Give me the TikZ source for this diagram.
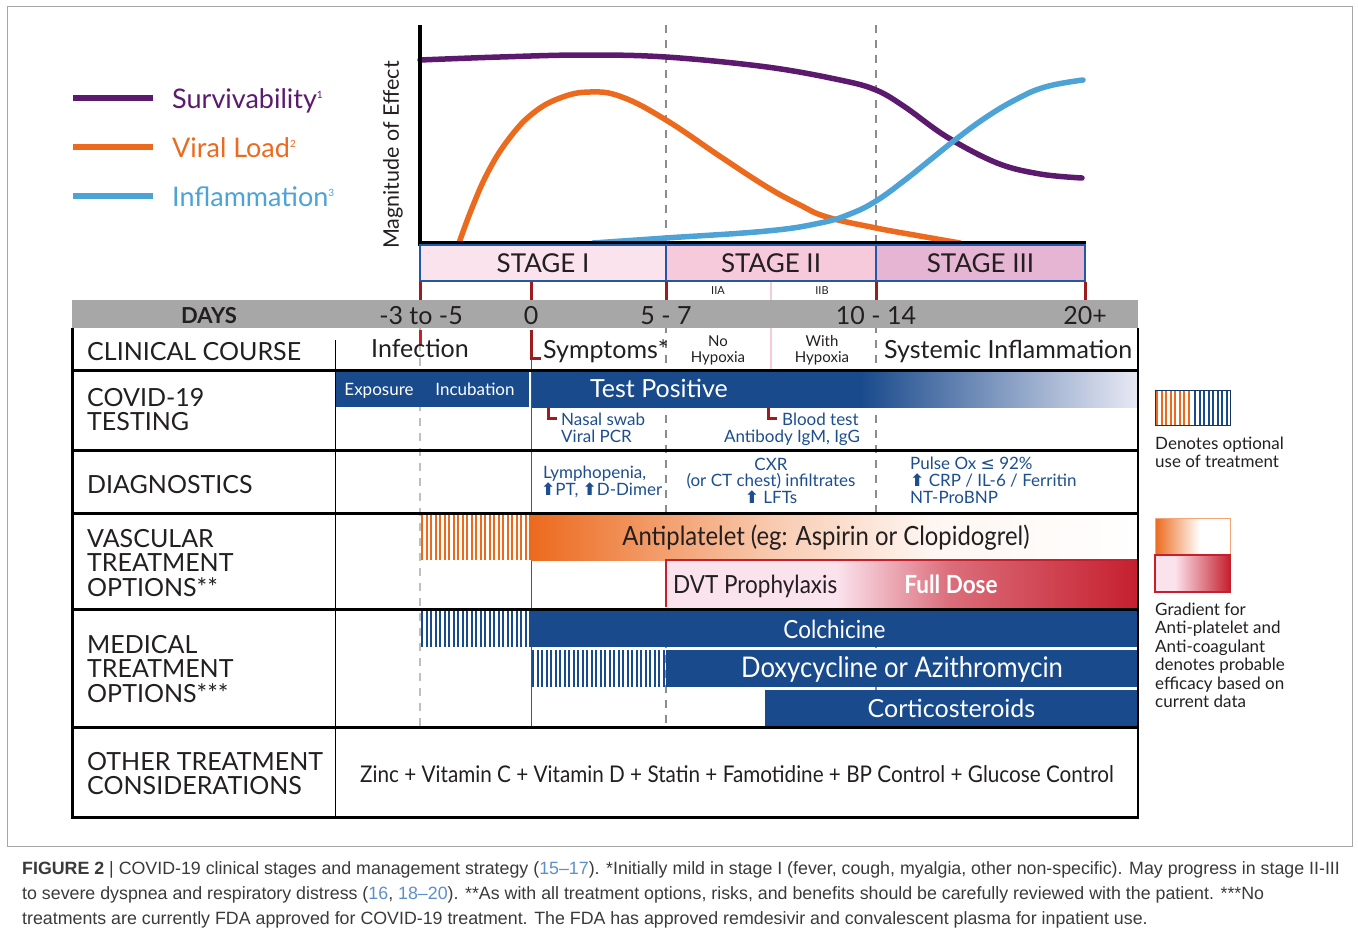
\documentclass[tikz,border=0pt]{standalone}
\usepackage{fontspec}
\setmainfont{Lato}
\newfontfamily\narrowfont{Lato}[FakeStretch=0.9]
\newfontfamily\capfont{Liberation Sans}
\newfontfamily\symfont{DejaVu Sans}
\usetikzlibrary{positioning}

\definecolor{ink}{HTML}{231F20}
\definecolor{purp}{HTML}{5C1A6E}
\definecolor{orng}{HTML}{EC6A1E}
\definecolor{lblue}{HTML}{4DA2D6}
\definecolor{dblue}{HTML}{184A8C}
\definecolor{tblue}{HTML}{1D4E8D}
\definecolor{sblue}{HTML}{2259A7}
\definecolor{pinkA}{HTML}{FBE3ED}
\definecolor{pinkB}{HTML}{F6C9DB}
\definecolor{pinkC}{HTML}{E6B5D4}
\definecolor{redd}{HTML}{C61F2E}
\definecolor{tickred}{HTML}{9E1B1F}
\definecolor{band}{HTML}{A7A7A7}
\definecolor{dashgray}{HTML}{8C8C8C}
\definecolor{refblue}{HTML}{5B8FCB}
\definecolor{capgray}{HTML}{3A3A3A}
\definecolor{lav}{HTML}{E9E9F4}

\newcommand{\fsz}[1]{\fontsize{#1}{#1}\selectfont}
\newcommand{\uparr}{{\symfont\bfseries ⬆}}

\pgfdeclarehorizontalshading{antiplt}{100bp}{color(0bp)=(orng); color(25bp)=(orng); color(45bp)=(orng!35!white); color(58bp)=(orng!6!white); color(75bp)=(white); color(100bp)=(white)}
\pgfdeclarehorizontalshading{dvtgrad}{100bp}{color(0bp)=(pinkA); color(25bp)=(pinkA); color(43bp)=(pinkA); color(55bp)=(redd!60!pinkA); color(75bp)=(redd); color(100bp)=(redd)}
\pgfdeclarehorizontalshading{testgrad}{100bp}{color(0bp)=(dblue); color(25bp)=(dblue); color(52bp)=(dblue); color(75bp)=(lav); color(100bp)=(lav)}
\pgfdeclarehorizontalshading{legO}{100bp}{color(0bp)=(orng); color(25bp)=(orng); color(55bp)=(white); color(100bp)=(white)}
\pgfdeclarehorizontalshading{legR}{100bp}{color(0bp)=(pinkA); color(25bp)=(pinkA); color(38bp)=(pinkA); color(75bp)=(redd); color(100bp)=(redd)}

\begin{document}
\begin{tikzpicture}[x=1pt,y=-1pt,
  every node/.style={inner sep=0pt,text=ink},
  lgdline/.style={line width=6pt},
  curve/.style={line width=5.5pt,line cap=round},
  lgdtxt/.style={anchor=base west,font=\fsz{27}},
  stagebox/.style={draw=sblue,line width=2.5pt,minimum height=36pt,font=\fsz{26}},
  tickmark/.style={tickred,line width=3pt},
  daylbl/.style={anchor=base,font=\fsz{25}},
  rowlbl/.style={anchor=base west,font=\fsz{25}},
  vdash/.style={dashgray,line width=1.3pt,dash pattern=on 8pt off 7pt},
  rule/.style={line width=3pt},
  bluetxt/.style={text=tblue,font=\fsz{17}},
  bar/.style={minimum height=36pt,font=\narrowfont\fsz{25},text height=18pt,text depth=0pt},
  stripeO/.style={orng,line width=2pt},
  stripeB/.style={dblue,line width=2pt},
  note/.style={anchor=base west,font=\fsz{17}},
  capline/.style={anchor=base west,font=\capfont\fsz{17.8},text=capgray}]
\useasboundingbox (0,0) rectangle (1358,937);

% frame
\draw[gray!70,line width=1pt] (7,6) rectangle (1352,846);

% legend
\draw[lgdline,purp] (73,98) -- (153,98);
\draw[lgdline,orng] (73,147) -- (153,147);
\draw[lgdline,lblue] (73,196) -- (153,196);
\node[lgdtxt,text=purp] (surv) at (172,108) {Survivability\raisebox{10pt}{\fsz{10}1}};
\node[lgdtxt,text=orng] (vload) at (172,157) {Viral Load\raisebox{10pt}{\fsz{10}2}};
\node[lgdtxt,text=lblue] (infl) at (172,206) {Inflammation\raisebox{10pt}{\fsz{10}3}};
\node[rotate=90,font=\fsz{21.5}] (mag) at (393,155) {Magnitude of Effect};

% guide lines
\draw[vdash] (666,25) -- (666,727);
\draw[vdash] (876,25) -- (876,727);
\draw[vdash,gray!50] (420,298) -- (420,727);
\draw[redd,line width=0.9pt] (531,358) -- (531,727);

% curves
\draw[curve,purp] plot[smooth,tension=0.6] coordinates {(420,60) (500,57) (583,55) (666,57) (767,67) (840,80) (876,90) (905,107) (947,137) (997,163) (1040,174) (1082,178)};
\draw[curve,orng] plot[smooth,tension=0.7] coordinates {(459,243) (472,208) (488,172) (508,140) (532,114) (560,98) (590,92) (622,97) (666,120) (721,157) (767,187) (800,205) (827,217) (876,228) (920,236) (960,243)};
\draw[curve,lblue] plot[smooth,tension=0.7] coordinates {(593,243) (666,238) (767,231) (820,223) (850,214) (876,201) (905,180) (930,160) (955,140) (985,118) (1015,100) (1045,87) (1083,80)};
\draw[line width=4pt] (420,25) -- (420,245);
\draw[line width=5pt] (418,243) -- (1086,243);

% stages
\node[stagebox,fill=pinkA,minimum width=246pt] (st1) at (543,263) {STAGE I};
\node[stagebox,fill=pinkB,minimum width=210pt] (st2) at (771,263) {STAGE II};
\node[stagebox,fill=pinkC,minimum width=209pt] (st3) at (980.5,263) {STAGE III};
\foreach \tx in {420,531,666,876,1085} \draw[tickmark] (\tx,282) -- (\tx,300);
\node[font=\fsz{11}] (iia) at (718,291) {IIA};
\node[font=\fsz{11}] (iib) at (822,291) {IIB};
\draw[pinkB,line width=2.5pt] (771,282) -- (771,370);

% days band
\fill[band] (72,300) rectangle (1138,328);
\node[anchor=base,font=\bfseries\fsz{22}] (days) at (209,323) {DAYS};
\node[daylbl] (d1) at (421,324) {-3 to -5};
\node[daylbl] (d2) at (531,324) {0};
\node[daylbl] (d3) at (666,324) {5 - 7};
\node[daylbl] (d4) at (876,324) {10 - 14};
\node[daylbl] (d5) at (1085,324) {20+};

% clinical course
\node[rowlbl] (cc) at (87,360) {CLINICAL COURSE};
\draw[redd,line width=3pt] (420,330) -- (420,345);
\node[anchor=base,font=\fsz{25}] (inf) at (420,357) {Infection};
\draw[tickred,line width=3pt] (531,330) -- (531,358) -- (541,358);
\node[anchor=base west,font=\fsz{25}] (sym) at (543,358) {Symptoms*};
\node[anchor=base,font=\fsz{15}] (no1) at (718,346) {No};
\node[anchor=base,font=\fsz{15}] (no2) at (718,362) {Hypoxia};
\node[anchor=base,font=\fsz{15}] (wi1) at (822,346) {With};
\node[anchor=base,font=\fsz{15}] (wi2) at (822,362) {Hypoxia};
\node[anchor=base west,font=\fsz{25}] (sysinf) at (884,358) {Systemic Inflammation};

% testing
\foreach \t/\y [count=\i] in {COVID-19/406,TESTING/430} \node[rowlbl] (tst\i) at (87,\y) {\t};
\fill[dblue] (335,372) rectangle (529,407);
\shade[shading=testgrad] (532,372) rectangle (1138,407);
\node[anchor=base,font=\fsz{17},text=white] (expo) at (379,395) {Exposure};
\node[anchor=base,font=\fsz{17},text=white] (incu) at (475,395) {Incubation};
\node[anchor=base,font=\fsz{25},text=white] (tpos) at (659,397) {Test Positive};
\draw[tickred,line width=3pt] (548,408) -- (548,418) -- (557,418);
\node[bluetxt,anchor=base west] (nasal) at (561,425) {Nasal swab};
\node[bluetxt,anchor=base west] (vpcr) at (561,442) {Viral PCR};
\draw[tickred,line width=3pt] (768,408) -- (768,418) -- (777,418);
\node[bluetxt,anchor=base west] (blood) at (782,425) {Blood test};
\node[bluetxt,anchor=base] (antib) at (792,442) {Antibody IgM, IgG};

% diagnostics
\node[rowlbl] (diag) at (87,493) {DIAGNOSTICS};
\node[bluetxt,anchor=base west] (lymph) at (543,478) {Lymphopenia,};
\node[bluetxt,anchor=base west] (ptdd) at (541,495) {\uparr PT, \uparr D-Dimer};
\node[bluetxt,anchor=base] (cxr) at (771,470) {CXR};
\node[bluetxt,anchor=base] (orct) at (771,486) {(or CT chest) infiltrates};
\node[bluetxt,anchor=base] (lfts) at (771,503) {\uparr\ LFTs};
\node[bluetxt,anchor=base west] (pox) at (910,469) {Pulse Ox {\symfont ≤} 92\%};
\node[bluetxt,anchor=base west] (crp) at (910,486) {\uparr\ CRP / IL-6 / Ferritin};
\node[bluetxt,anchor=base west] (ntp) at (910,503) {NT-ProBNP};

% vascular
\foreach \t/\y [count=\i] in {VASCULAR/547,TREATMENT/571,OPTIONS**/596} \node[rowlbl] (vas\i) at (87,\y) {\t};
\foreach \sx in {422,426.5,...,530} \draw[stripeO] (\sx,515) -- (\sx,560);
\shade[shading=antiplt] (531,515) rectangle (1138,560);
\node[anchor=base,font=\narrowfont\fsz{26.5}] (antip) at (826,545) {Antiplatelet (eg: Aspirin or Clopidogrel)};
\shade[shading=dvtgrad] (666,560) rectangle (1138,607);
\draw[redd,line width=1.5pt] (666,607) -- (666,560) -- (1138,560);
\node[anchor=base west,font=\narrowfont\fsz{25}] (dvt) at (673,593) {DVT Prophylaxis};
\node[anchor=base,font=\narrowfont\bfseries\fsz{25},text=white] (full) at (951,593) {Full Dose};

% medical
\foreach \t/\y [count=\i] in {MEDICAL/653,TREATMENT/677,OPTIONS***/702} \node[rowlbl] (med\i) at (87,\y) {\t};
\foreach \sx in {422,426.5,...,530} \draw[stripeB] (\sx,611) -- (\sx,647);
\node[bar,fill=dblue,text=white,minimum width=607pt] (colch) at (834.5,629) {Colchicine};
\foreach \sx in {533,537.5,...,665} \draw[stripeB] (\sx,650) -- (\sx,687);
\node[bar,fill=dblue,text=white,minimum width=472pt,minimum height=37pt,font=\narrowfont\fsz{28.5}] (doxy) at (902,668.5) {Doxycycline or Azithromycin};
\node[bar,fill=dblue,text=white,minimum width=373pt,minimum height=37pt,font=\fsz{25}] (cort) at (951.5,708.5) {Corticosteroids};

% other
\foreach \t/\y [count=\i] in {OTHER TREATMENT/770,CONSIDERATIONS/794} \node[rowlbl] (oth\i) at (87,\y) {\t};
\node[anchor=base,font=\narrowfont\fsz{23}] (zinc) at (737,782) {Zinc + Vitamin C + Vitamin D + Statin + Famotidine + BP Control + Glucose Control};

% table rules
\foreach \ry in {370,450,513,609,727,817} \draw[rule] (72,\ry) -- (1138,\ry);
\draw[rule] (72,328) -- (72,818.5);
\draw[line width=1.5pt] (1138,328) -- (1138,818.5);
\draw[line width=0.8pt] (335,340) -- (335,817);

% right legend
\foreach \sx in {1157,1161.5,...,1192} \draw[stripeO] (\sx,390) -- (\sx,425);
\foreach \sx in {1195,1199.5,...,1229} \draw[stripeB] (\sx,390) -- (\sx,425);
\draw[dblue!70!black,line width=1pt] (1155,390) rectangle (1230,425);
\node[note] (den1) at (1155,449) {Denotes optional};
\node[note] (den2) at (1155,467) {use of treatment};
\shade[shading=legO] (1155,518) rectangle (1230,555);
\draw[orng!60,line width=1pt] (1155,518) rectangle (1230,555);
\shade[shading=legR] (1155,555) rectangle (1230,592);
\draw[redd,line width=1.5pt] (1155,555) rectangle (1230,592);
\foreach \t/\y [count=\i] in {Gradient for/615,Anti-platelet and/633.5,Anti-coagulant/652,denotes probable/670.5,efficacy based on/689,current data/707.5} \node[note] (grd\i) at (1155,\y) {\t};

% caption
\node[capline] (cap1) at (22,874) {\textbf{FIGURE 2} | COVID-19 clinical stages and management strategy (\textcolor{refblue}{15–17}). *Initially mild in stage I (fever, cough, myalgia, other non-specific). May progress in stage II-III};
\node[capline] (cap2) at (22,899) {to severe dyspnea and respiratory distress (\textcolor{refblue}{16}, \textcolor{refblue}{18–20}). **As with all treatment options, risks, and benefits should be carefully reviewed with the patient. ***No};
\node[capline] (cap3) at (22,924) {treatments are currently FDA approved for COVID-19 treatment. The FDA has approved remdesivir and convalescent plasma for inpatient use.};
\end{tikzpicture}
\end{document}
